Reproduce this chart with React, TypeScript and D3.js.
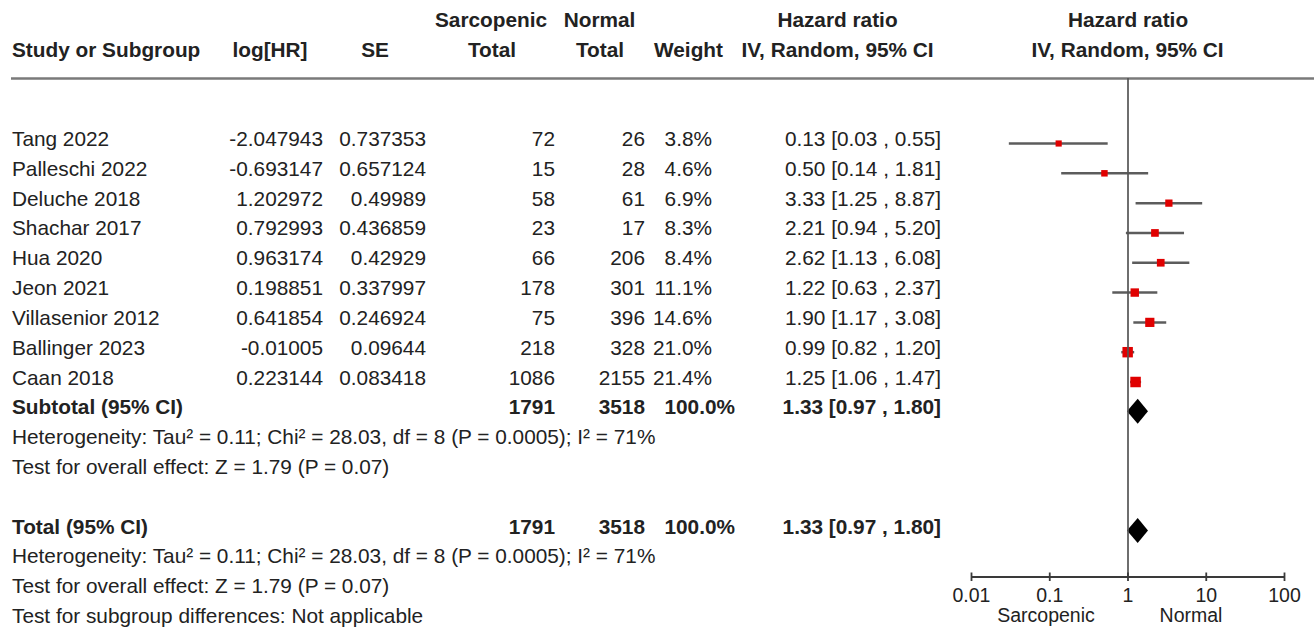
import React from "react";
import * as d3 from "d3";

const studies = [
  "Tang 2022",
  "Palleschi 2022",
  "Deluche 2018",
  "Shachar 2017",
  "Hua 2020",
  "Jeon 2021",
  "Villasenior 2012",
  "Ballinger 2023",
  "Caan 2018",
];
const logHRText = ["-2.047943", "-0.693147", "1.202972", "0.792993", "0.963174", "0.198851", "0.641854", "-0.01005", "0.223144"];
const seText = ["0.737353", "0.657124", "0.49989", "0.436859", "0.42929", "0.337997", "0.246924", "0.09644", "0.083418"];
const sarcTotal = [72, 15, 58, 23, 66, 178, 75, 218, 1086];
const normTotal = [26, 28, 61, 17, 206, 301, 396, 328, 2155];
const weights = [3.8, 4.6, 6.9, 8.3, 8.4, 11.1, 14.6, 21.0, 21.4];
const hr = [0.13, 0.5, 3.33, 2.21, 2.62, 1.22, 1.9, 0.99, 1.25];
const hrLo = [0.03, 0.14, 1.25, 0.94, 1.13, 0.63, 1.17, 0.82, 1.06];
const hrHi = [0.55, 1.81, 8.87, 5.2, 6.08, 2.37, 3.08, 1.2, 1.47];

const pooled = { hr: 1.33, lo: 0.97, hi: 1.8 };
const pooledSarc = 1791;
const pooledNorm = 3518;
const pooledWeight = "100.0%";

const hetText = "Heterogeneity: Tau² = 0.11; Chi² = 28.03, df = 8 (P = 0.0005); I² = 71%";
const overallText = "Test for overall effect: Z = 1.79 (P = 0.07)";
const subgroupText = "Test for subgroup differences: Not applicable";

const axisTicks = [0.01, 0.1, 1, 10, 100];
const axisTickLabels = ["0.01", "0.1", "1", "10", "100"];
const favourLabels = ["Sarcopenic", "Normal"];

const W = 1314;
const H = 631;
const FONT = "'Liberation Sans', Arial, Helvetica, sans-serif";
const FS = 20.8;
const TXT = "#222";

const fmt2 = (v: number) => v.toFixed(2);
const ciText = (h: number, l: number, u: number) => `${fmt2(h)} [${fmt2(l)} , ${fmt2(u)}]`;

export default function App() {
  const x = d3.scaleLog().domain([0.01, 100]).range([971.5, 1284.5]);
  const rowY = d3.scaleLinear().domain([0, 16]).range([146, 623]);
  const size = d3.scaleSqrt().domain([0, 21.4]).range([3, 10.5]);

  const col = {
    study: 12,
    logHR: 323,
    se: 426,
    sarc: 555,
    norm: 645,
    weight: 712,
    ci: 941,
  };

  const axisY = 577;
  const vx = x(1);

  const diamond = (rowIdx: number) => {
    const cy = rowY(rowIdx) - 3;
    const hh = 12.5;
    const pts = [
      [x(pooled.lo), cy],
      [x(pooled.hr), cy - hh],
      [x(pooled.hi), cy],
      [x(pooled.hr), cy + hh],
    ];
    return <polygon points={pts.map((p) => p.join(",")).join(" ")} fill="#000" />;
  };

  const totalRow = (rowIdx: number, label: string) => {
    const y = rowY(rowIdx);
    return (
      <g fontWeight="bold">
        <text x={col.study} y={y}>{label}</text>
        <text x={col.sarc} y={y} textAnchor="end">{pooledSarc}</text>
        <text x={col.norm} y={y} textAnchor="end">{pooledNorm}</text>
        <text x={col.weight + 23} y={y} textAnchor="end">{pooledWeight}</text>
        <text x={col.ci} y={y} textAnchor="end">{ciText(pooled.hr, pooled.lo, pooled.hi)}</text>
      </g>
    );
  };

  return (
    <svg
      width={W}
      height={H}
      viewBox={`0 0 ${W} ${H}`}
      style={{ position: "absolute", left: 0, top: 0, background: "#fff" }}
      fontFamily={FONT}
      fontSize={FS}
      fill={TXT}
    >
      <rect x={0} y={0} width={W} height={H} fill="#fff" />
      {/* headers */}
      <g fontWeight="bold">
        <text x={491} y={27} textAnchor="middle">Sarcopenic</text>
        <text x={599.5} y={27} textAnchor="middle">Normal</text>
        <text x={837.5} y={27} textAnchor="middle">Hazard ratio</text>
        <text x={1128} y={27} textAnchor="middle">Hazard ratio</text>
        <text x={col.study} y={57}>Study or Subgroup</text>
        <text x={270} y={57} textAnchor="middle">log[HR]</text>
        <text x={375} y={57} textAnchor="middle">SE</text>
        <text x={492} y={57} textAnchor="middle">Total</text>
        <text x={600} y={57} textAnchor="middle">Total</text>
        <text x={688.5} y={57} textAnchor="middle">Weight</text>
        <text x={837.5} y={57} textAnchor="middle">IV, Random, 95% CI</text>
        <text x={1127.5} y={57} textAnchor="middle">IV, Random, 95% CI</text>
      </g>
      <line x1={11} x2={W} y1={78.5} y2={78.5} stroke="#7a7a7a" strokeWidth={2.5} />

      {/* study rows */}
      {studies.map((s, i) => {
        const y = rowY(i);
        return (
          <g key={s}>
            <text x={col.study} y={y}>{s}</text>
            <text x={col.logHR} y={y} textAnchor="end">{logHRText[i]}</text>
            <text x={col.se} y={y} textAnchor="end">{seText[i]}</text>
            <text x={col.sarc} y={y} textAnchor="end">{sarcTotal[i]}</text>
            <text x={col.norm} y={y} textAnchor="end">{normTotal[i]}</text>
            <text x={col.weight} y={y} textAnchor="end">{weights[i].toFixed(1)}%</text>
            <text x={col.ci} y={y} textAnchor="end">{ciText(hr[i], hrLo[i], hrHi[i])}</text>
          </g>
        );
      })}

      {totalRow(9, "Subtotal (95% CI)")}
      <text x={col.study} y={rowY(10)}>{hetText}</text>
      <text x={col.study} y={rowY(11)}>{overallText}</text>
      {totalRow(13, "Total (95% CI)")}
      <text x={col.study} y={rowY(14)}>{hetText}</text>
      <text x={col.study} y={rowY(15)}>{overallText}</text>
      <text x={col.study} y={rowY(16)}>{subgroupText}</text>

      {/* forest marks */}
      {studies.map((s, i) => {
        const cy = rowY(i) - 2.5;
        const sz = size(weights[i]);
        return (
          <g key={"m" + s}>
            <line x1={x(hrLo[i])} x2={x(hrHi[i])} y1={cy} y2={cy} stroke="#5c5c5c" strokeWidth={2.5} />
            <rect x={x(hr[i]) - sz / 2} y={cy - sz / 2} width={sz} height={sz} fill="#e00000" />
          </g>
        );
      })}
      {diamond(9)}
      {diamond(13)}
      <line x1={vx} x2={vx} y1={78} y2={axisY} stroke="#555" strokeWidth={2} strokeOpacity={0.85} />

      {/* axis */}
      <line x1={x(0.01)} x2={x(100)} y1={axisY} y2={axisY} stroke="#3a3a3a" strokeWidth={1.8} />
      {axisTicks.map((t, i) => (
        <g key={"t" + t}>
          <line x1={x(t)} x2={x(t)} y1={axisY - 4.5} y2={axisY + 4} stroke="#3a3a3a" strokeWidth={1.8} />
          <text x={x(t)} y={602} textAnchor="middle" fontSize={19.5}>{axisTickLabels[i]}</text>
        </g>
      ))}
      <text x={1046} y={622} textAnchor="middle" fontSize={19.5}>{favourLabels[0]}</text>
      <text x={1191} y={622} textAnchor="middle" fontSize={19.5}>{favourLabels[1]}</text>
    </svg>
  );
}
